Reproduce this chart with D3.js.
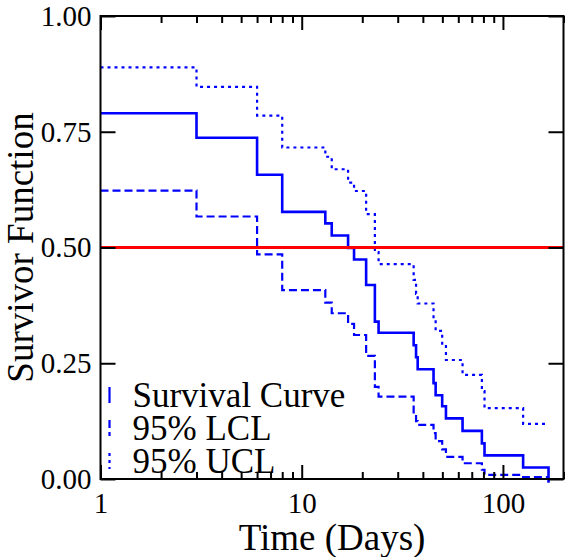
<!DOCTYPE html>
<html>
<head>
<meta charset="utf-8">
<script src="https://cdn.jsdelivr.net/npm/d3@7"></script>
<style>
  body { margin: 0; background: #fff; }
  svg { display: block; }
  svg text { font-family: "Liberation Serif", Tinos, "Times New Roman", serif; }
</style>
</head>
<body>
<div id="graph"></div>
<script>
/// Data

// event times (days) where the curves step down
const stepTimes = [1, 3.0, 6.0, 8.0, 13.1, 14.1, 17.0, 18.2, 20.9, 23.1, 24.1,
  36.0, 37.0, 37.7, 45.2, 46.3, 49.9, 52.1, 63.0, 78.6, 81.0, 126, 168.5];
const survival = [0.790, 0.737, 0.657, 0.577, 0.552, 0.526, 0.499, 0.474, 0.419, 0.340, 0.316,
  0.289, 0.263, 0.237, 0.207, 0.181, 0.157, 0.131, 0.104, 0.077, 0.051, 0.025, -0.008];
const lcl = [0.623, 0.567, 0.485, 0.408, 0.381, 0.358, 0.335, 0.311, 0.266, 0.199, 0.178,
  0.140, 0.125, 0.117, 0.099, 0.082, 0.064, 0.048, 0.034, 0.020, 0.009, 0.004, 0.004];
const ucl = [0.889, 0.847, 0.785, 0.716, 0.696, 0.669, 0.640, 0.622, 0.572, 0.490, 0.464,
  0.430, 0.400, 0.379, 0.345, 0.320, 0.290, 0.257, 0.225, 0.190, 0.153, 0.119, 0.119];
const medianLevel = 0.5;

const xMajorTicks = [1, 10, 100];
const xMinorTicks = [2, 3, 4, 5, 6, 7, 8, 9, 20, 30, 40, 50, 60, 70, 80, 90, 200];
const yTicks = [0, 0.25, 0.5, 0.75, 1];
const legendLabels = ["Survival Curve", "95% LCL", "95% UCL"];

//Geometry
var margin = { top: 16, right: 1.5, bottom: 78, left: 100.5 };
var width = 565 - margin.left - margin.right;
var height = 557 - margin.top - margin.bottom;

var xScale = d3.scaleLog().domain([1, 200]).range([0, width]);
var yScale = d3.scaleLinear().domain([0, 1]).range([height, 0]);

var svg = d3.select("#graph")
  .append("svg")
  .attr("width", 565)
  .attr("height", 557)
  .append("g")
  .attr("transform", "translate(" + margin.left + "," + margin.top + ")");

// curves
var styles = [
  { data: survival, dash: null, w: 2.6 },
  { data: lcl, dash: "8,4", w: 2.2 },
  { data: ucl, dash: "3,4", w: 2.2 }
];

var line = d3.line()
  .curve(d3.curveStepAfter)
  .x(function (d) { return xScale(d.t); })
  .y(function (d) { return yScale(d.v); });

styles.forEach(function (s) {
  var pts = stepTimes.map(function (t, i) { return { t: t, v: s.data[i] }; });
  svg.append("path")
    .datum(pts)
    .attr("fill", "none")
    .attr("stroke", "#0000ff")
    .attr("stroke-width", s.w)
    .attr("stroke-dasharray", s.dash)
    .attr("d", line);
});

// median reference line
svg.append("line")
  .attr("x1", 0).attr("x2", width)
  .attr("y1", yScale(medianLevel)).attr("y2", yScale(medianLevel))
  .attr("stroke", "#ff0000")
  .attr("stroke-width", 3);

// axes, ticks pointing inwards
function styleAxis(g) {
  g.select(".domain").remove();
  g.selectAll(".tick line").attr("stroke", "#000").attr("stroke-width", 2);
  g.attr("font-family", null).attr("font-size", 29);
  g.selectAll("text").attr("fill", "#000");
}

svg.append("g")
  .attr("transform", "translate(0," + height + ")")
  .call(d3.axisBottom(xScale).tickValues(xMajorTicks).tickSize(-14).tickPadding(13)
    .tickFormat(d3.format("d")))
  .call(styleAxis);
svg.append("g")
  .attr("transform", "translate(0," + height + ")")
  .call(d3.axisBottom(xScale).tickValues(xMinorTicks).tickSize(-7).tickFormat(""))
  .call(styleAxis);
svg.append("g")
  .call(d3.axisTop(xScale).tickValues(xMajorTicks).tickSize(-14).tickFormat(""))
  .call(styleAxis);
svg.append("g")
  .call(d3.axisTop(xScale).tickValues(xMinorTicks).tickSize(-7).tickFormat(""))
  .call(styleAxis);
svg.append("g")
  .call(d3.axisLeft(yScale).tickValues(yTicks).tickSize(-15).tickPadding(9)
    .tickFormat(d3.format(".2f")))
  .call(styleAxis);
svg.append("g")
  .attr("transform", "translate(" + width + ",0)")
  .call(d3.axisRight(yScale).tickValues(yTicks).tickSize(-15).tickFormat(""))
  .call(styleAxis);

// frame
svg.append("rect")
  .attr("width", width)
  .attr("height", height)
  .attr("fill", "none")
  .attr("stroke", "#000")
  .attr("stroke-width", 2);

// axis titles
svg.append("text")
  .attr("x", xScale(Math.sqrt(200)))
  .attr("y", height + 71)
  .attr("text-anchor", "middle")
  .attr("font-size", 37)
  .text("Time (Days)");

svg.append("text")
  .attr("transform", "translate(" + (33 - margin.left) + "," + (height / 2) + "),rotate(-90)")
  .attr("text-anchor", "middle")
  .attr("font-size", 37)
  .text("Survivor Function");

// legend
var legend = svg.append("g").attr("transform", "translate(9," + (yScale(0) - 98) + ")");
legendLabels.forEach(function (label, i) {
  legend.append("line")
    .attr("x1", 0).attr("x2", 0)
    .attr("y1", i * 33 + 6).attr("y2", i * 33 + 22)
    .attr("stroke", "#0000ff")
    .attr("stroke-width", 2.2)
    .attr("stroke-dasharray", styles[i].dash);
  legend.append("text")
    .attr("x", 23)
    .attr("y", i * 33 + 26)
    .attr("font-size", 35)
    .text(label);
});
</script>
</body>
</html>
